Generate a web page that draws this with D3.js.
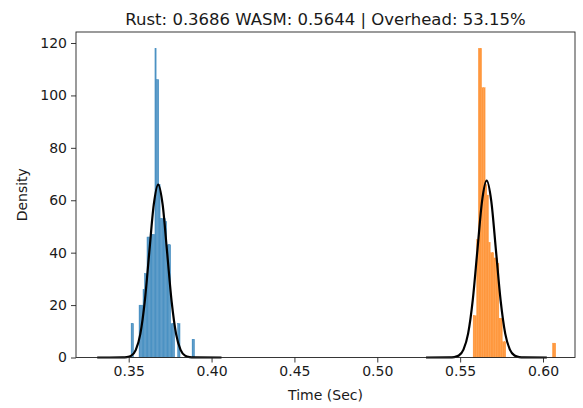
<!DOCTYPE html>
<html>
<head>
<meta charset="utf-8">
<script src="https://cdn.jsdelivr.net/npm/d3@7"></script>
<style>
  body { margin: 0; background: #fff; }
  svg text { font-family: "DejaVu Sans", sans-serif; fill: #1a1a1a; }
</style>
</head>
<body>
<svg id="chart"></svg>
<script>
// Rust histogram (density per bin), bins start at rustStart, width rustBinW
const rustStart = 0.3514
const rustBinW = 0.0008
const rustDensity = [13, 13, 0, 0, 0, 0, 20, 20, 20, 26, 32, 32, 46, 46, 46, 47, 47, 47,
  118, 106, 106, 66, 53, 53, 53, 53, 52, 43, 43, 43, 13, 13, 13, 0, 0, 13, 13, 0,
  0, 0, 0, 0, 0, 0, 0, 0, 7, 7]

// WASM histogram
const wasmStart = 0.5578
const wasmBinW = 0.00104
const wasmDensity = [16, 16, 45, 118, 118, 103, 103, 66, 62, 44, 40, 40, 38, 38, 36, 15, 15, 6, 6,
  0, 0, 0, 0, 0, 0, 0, 0, 0, 0, 0, 0, 0, 0, 0, 0, 0, 0, 0, 0, 0, 0, 0, 0, 0, 0, 0, 5.5, 5.5]

// fitted curves
const rustCurveX = [0.3310, 0.3462, 0.3489, 0.3516, 0.3543, 0.3570, 0.3597, 0.3624, 0.3651, 0.3678,
  0.3705, 0.3732, 0.3759, 0.3786, 0.3813, 0.3840, 0.3867, 0.3894, 0.4060]
const rustCurveY = [0, 0.02, 0.14, 0.7, 2.9, 8.9, 21.4, 40.0, 58.2, 66,
  58.2, 40.0, 21.4, 8.9, 2.9, 0.7, 0.14, 0.02, 0]
const wasmCurveX = [0.5294, 0.5436, 0.5464, 0.5492, 0.5520, 0.5548, 0.5576, 0.5604, 0.5632, 0.5660,
  0.5688, 0.5716, 0.5744, 0.5772, 0.5800, 0.5828, 0.5856, 0.5884, 0.6023]
const wasmCurveY = [0, 0.02, 0.15, 0.75, 3.0, 9.1, 21.9, 40.9, 59.6, 67.5,
  59.6, 40.9, 21.9, 9.1, 3.0, 0.75, 0.15, 0.02, 0]

const xTicks = [0.35, 0.40, 0.45, 0.50, 0.55, 0.60]
const yTicks = [0, 20, 40, 60, 80, 100, 120]
const xDomain = [0.3182, 0.6193]
const yDomain = [0, 124.2]
const titleText = "Rust: 0.3686 WASM: 0.5644 | Overhead: 53.15%"

const W = 583, H = 408
const m = { left: 76, right: 575, top: 32, bottom: 357.5 }

const svg = d3.select("#chart").attr("width", W).attr("height", H)

const x = d3.scaleLinear().domain(xDomain).range([m.left, m.right])
const y = d3.scaleLinear().domain(yDomain).range([m.bottom, m.top])

// tab10 colours at alpha 0.8 over white
function drawHist(start, bw, dens, color) {
    const bins = dens.map((d, i) => ({ x0: start + i * bw, x1: start + (i + 1) * bw, d: d }))
        .filter(b => b.d > 0)
    svg.append("g")
        .selectAll("rect")
        .data(bins)
        .join("rect")
        .attr("x", b => x(b.x0))
        .attr("width", b => x(b.x1) - x(b.x0))
        .attr("y", b => y(b.d))
        .attr("height", b => y(0) - y(b.d))
        .attr("fill", color)
        .attr("stroke", color)
        .attr("stroke-width", 0.3)
}
drawHist(rustStart, rustBinW, rustDensity, "#4c92c3")
drawHist(wasmStart, wasmBinW, wasmDensity, "#ff983e")

const line = d3.line()
    .x(p => x(p[0]))
    .y(p => y(p[1]))
    .curve(d3.curveMonotoneX)

//curves
;[[rustCurveX, rustCurveY], [wasmCurveX, wasmCurveY]].forEach(c => {
    svg.append("path")
        .datum(d3.zip(c[0], c[1]))
        .attr("fill", "none")
        .attr("stroke", "#000")
        .attr("stroke-width", 2.2)
        .attr("d", line)
})

// axes
const xAxis = svg.append("g")
    .attr("transform", "translate(0," + m.bottom + ")")
    .call(d3.axisBottom(x).tickValues(xTicks).tickFormat(d3.format(".2f")).tickSizeOuter(0).tickSize(5).tickPadding(4))
const yAxis = svg.append("g")
    .attr("transform", "translate(" + m.left + ",0)")
    .call(d3.axisLeft(y).tickValues(yTicks).tickSizeOuter(0).tickSize(5).tickPadding(4))

;[xAxis, yAxis].forEach(a => {
    a.select(".domain").remove()
    a.selectAll("line").attr("stroke", "#222").attr("stroke-width", 0.9)
    a.selectAll("text").attr("font-size", 14).attr("fill", "#1a1a1a")
        .style("font-family", "'DejaVu Sans', sans-serif")
})

// frame
svg.append("rect")
    .attr("x", m.left).attr("y", m.top)
    .attr("width", m.right - m.left).attr("height", m.bottom - m.top)
    .attr("fill", "none").attr("stroke", "#222").attr("stroke-width", 0.9)

svg.append("text")
    .attr("x", (m.left + m.right) / 2).attr("y", 24.5)
    .attr("text-anchor", "middle")
    .attr("font-size", 16.5)
    .text(titleText)

svg.append("text")
    .attr("x", (m.left + m.right) / 2).attr("y", 400)
    .attr("text-anchor", "middle")
    .attr("font-size", 14)
    .text("Time (Sec)")

svg.append("text")
    .attr("transform", "translate(27," + ((m.top + m.bottom) / 2) + ") rotate(-90)")
    .attr("text-anchor", "middle")
    .attr("font-size", 14)
    .text("Density")
</script>
</body>
</html>
